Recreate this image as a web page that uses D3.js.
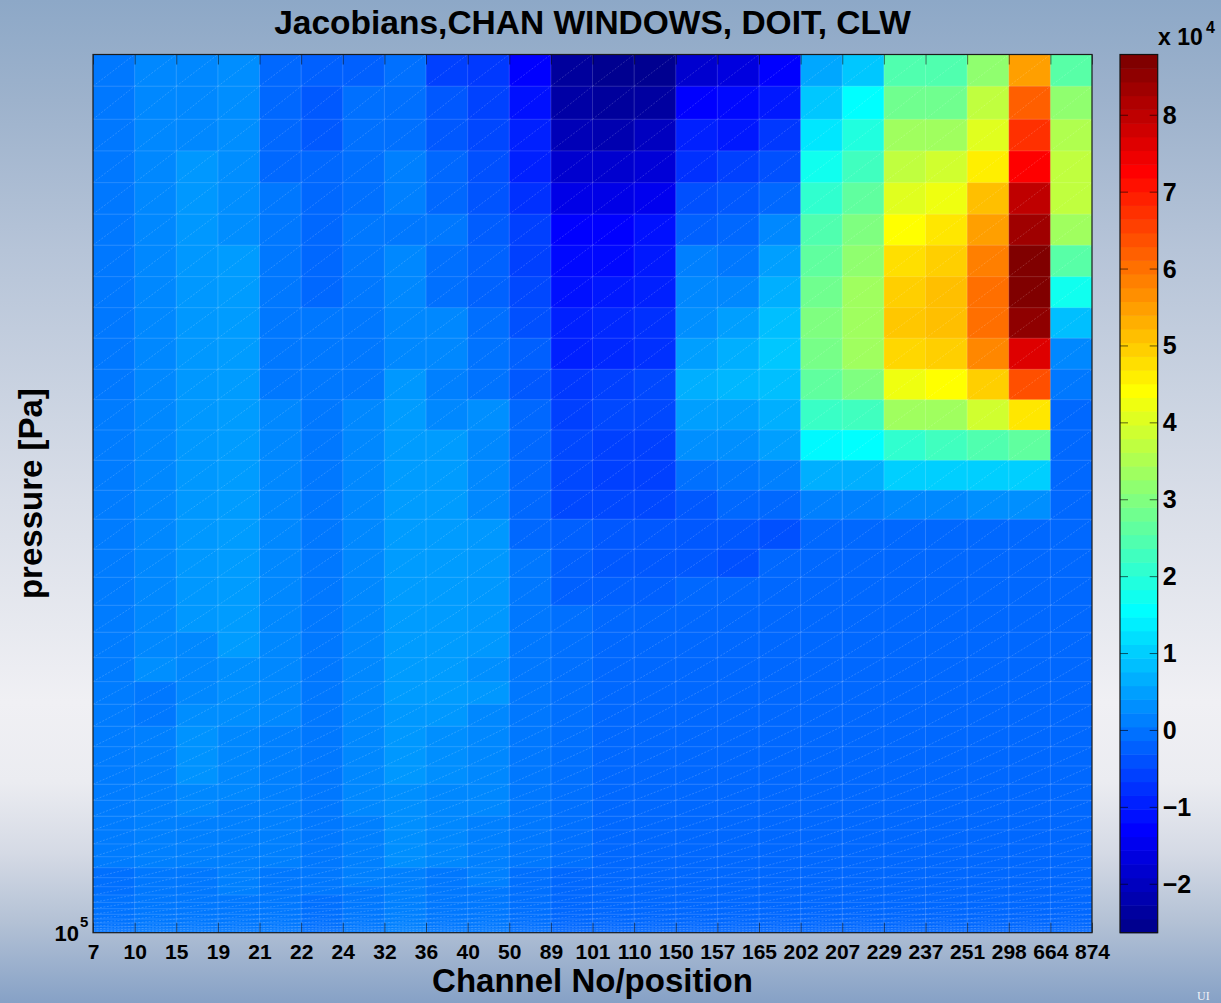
<!DOCTYPE html>
<html>
<head>
<meta charset="utf-8">
<script src="https://cdn.jsdelivr.net/npm/d3@7"></script>
<style>
html, body { margin: 0; padding: 0; }
body { width: 1221px; height: 1003px; overflow: hidden; }
text { font-family: "Liberation Sans", Arial, Helvetica, sans-serif; font-weight: bold; fill: #000; }
</style>
</head>
<body>
<div id="chart"></div>
<script>
// channel labels sit on the cell edges (pcolor style), 25 edges -> 24 cells
var channels = ["7","10","15","19","21","22","24","32","36","40","50","89","101","110",
                "150","157","165","202","207","229","237","251","298","664","874"];

// pressure cell edges [Pa], top -> bottom (log axis, reversed)
var pressureEdges = [13240, 14243, 15370, 16530, 17783, 19123, 20540, 22080, 23714, 25443,
                     27330, 29309, 31430, 33700, 36110, 38600, 41360, 44120, 47060, 50070,
                     53090, 56100, 59100, 62170, 65160, 68120, 71050, 73720, 76480, 78930,
                     81520, 83950, 86100, 88100, 89950, 91690, 93250, 94620, 95850, 96900,
                     97790, 98540, 99150, 99610, 100000];

// Jacobian values (x 1e4), one row per pressure layer, top -> bottom
var jacobian = [
 [0.05,0.23,0.23,0.30,-0.13,-0.22,-0.22,-0.04,-0.58,-0.65,-1.29,-2.40,-2.54,-2.54,-1.83,-1.65,-1.29,0.58,0.94,2.46,2.46,3.17,5.49,2.55],
 [0.05,0.23,0.23,0.30,-0.13,-0.30,-0.04,-0.04,-0.31,-0.55,-1.11,-2.30,-2.40,-2.36,-1.29,-1.20,-1.02,0.94,1.56,2.82,2.82,3.71,6.21,3.17],
 [0.05,0.23,0.23,0.30,-0.13,-0.30,-0.04,-0.04,-0.31,-0.50,-0.93,-2.10,-2.18,-2.00,-0.93,-1.02,-0.66,1.30,1.92,3.35,3.35,4.07,6.74,3.53],
 [0.05,0.23,0.41,0.30,-0.13,-0.13,-0.04,0.14,-0.13,-0.40,-0.93,-1.83,-1.83,-1.74,-0.75,-0.58,-0.40,1.74,2.28,3.71,3.89,4.60,7.28,3.71],
 [0.05,0.23,0.41,0.30,0.05,-0.13,-0.04,0.14,-0.13,-0.35,-0.75,-1.56,-1.56,-1.47,-0.40,-0.31,-0.13,2.10,2.64,4.07,4.24,5.14,7.99,3.71],
 [0.05,0.23,0.41,0.30,0.05,-0.13,0.05,0.05,0.05,-0.25,-0.58,-1.29,-1.29,-1.11,-0.22,-0.13,0.23,2.46,2.99,4.42,4.69,5.49,8.35,3.35],
 [0.05,0.23,0.41,0.45,0.05,-0.13,0.05,0.23,-0.04,-0.20,-0.58,-1.20,-1.20,-1.02,0.14,0.05,0.49,2.64,3.17,4.78,4.96,5.85,8.71,2.55],
 [0.05,0.23,0.41,0.45,0.05,-0.13,0.05,0.23,-0.04,-0.20,-0.49,-1.11,-1.02,-0.93,0.23,0.23,0.67,2.82,3.35,4.96,5.14,6.03,8.71,1.74],
 [0.05,0.23,0.41,0.45,0.05,0.05,0.05,0.23,0.23,-0.05,-0.40,-0.93,-0.84,-0.75,0.31,0.49,0.85,2.99,3.35,5.05,5.14,6.03,8.53,0.85],
 [0.05,0.23,0.41,0.45,0.05,0.05,0.05,0.23,0.23,0.00,-0.22,-0.93,-0.84,-0.75,0.49,0.67,0.94,2.90,3.35,4.87,4.96,5.76,7.64,0.23],
 [0.05,0.23,0.41,0.45,0.05,0.05,0.05,0.41,0.14,0.00,-0.31,-0.66,-0.58,-0.49,0.67,0.76,0.85,2.64,2.99,4.24,4.42,4.96,6.39,0.05],
 [0.10,0.23,0.41,0.45,0.23,0.05,0.23,0.45,0.23,0.31,-0.13,-0.58,-0.49,-0.49,0.49,0.49,0.67,2.20,2.28,3.35,3.35,3.89,4.69,-0.13],
 [0.10,0.23,0.41,0.45,0.23,0.05,0.23,0.45,0.45,0.23,-0.13,-0.49,-0.58,-0.58,0.31,0.31,0.49,1.50,1.56,2.10,2.28,2.46,2.64,-0.13],
 [0.10,0.23,0.41,0.45,0.23,0.05,0.23,0.45,0.45,0.23,-0.13,-0.49,-0.58,-0.58,-0.04,0.05,0.14,0.67,0.67,1.03,1.03,1.03,1.03,-0.13],
 [0.10,0.23,0.41,0.45,0.23,0.05,0.23,0.45,0.45,0.23,-0.13,-0.49,-0.49,-0.49,-0.31,-0.13,-0.13,0.14,0.14,0.23,0.23,0.31,0.31,-0.13],
 [0.10,0.23,0.41,0.45,0.23,0.05,0.23,0.45,0.45,0.41,-0.13,-0.22,-0.31,-0.31,-0.31,-0.31,-0.40,-0.13,-0.13,-0.13,-0.13,-0.13,-0.13,-0.13],
 [0.10,0.23,0.41,0.45,0.23,0.05,0.23,0.45,0.45,0.41,0.05,-0.22,-0.31,-0.31,-0.31,-0.40,-0.13,-0.13,-0.13,-0.13,-0.13,-0.13,-0.13,-0.13],
 [0.10,0.23,0.41,0.45,0.23,0.05,0.23,0.45,0.45,0.41,0.05,-0.22,-0.22,-0.22,-0.13,-0.13,-0.13,-0.13,-0.13,-0.13,-0.13,-0.13,-0.13,-0.13],
 [0.10,0.23,0.41,0.45,0.23,0.05,0.23,0.45,0.45,0.41,0.05,-0.04,-0.13,-0.13,-0.13,-0.13,-0.13,-0.13,-0.13,-0.13,-0.13,-0.13,-0.13,-0.13],
 [0.10,0.23,0.23,0.45,0.23,0.05,0.23,0.45,0.45,0.41,0.05,-0.04,-0.13,-0.13,-0.13,-0.13,-0.13,-0.13,-0.13,-0.13,-0.13,-0.13,-0.13,-0.13],
 [0.10,0.31,0.23,0.31,0.23,0.05,0.23,0.45,0.45,0.31,0.05,-0.04,-0.13,-0.13,-0.13,-0.13,-0.13,-0.13,-0.13,-0.13,-0.13,-0.13,-0.13,-0.13],
 [0.10,0.05,0.23,0.31,0.23,0.05,0.23,0.45,0.45,0.41,0.05,-0.04,-0.13,-0.13,-0.13,-0.13,-0.13,-0.13,-0.13,-0.13,-0.13,-0.13,-0.13,-0.13],
 [0.10,0.05,0.30,0.30,0.23,0.05,0.23,0.41,0.41,0.23,0.05,-0.04,-0.13,-0.13,-0.13,-0.13,-0.13,-0.13,-0.13,-0.13,-0.13,-0.13,-0.13,-0.13],
 [0.10,0.14,0.35,0.23,0.14,0.05,0.23,0.41,0.31,0.23,0.05,-0.04,-0.13,-0.13,-0.13,-0.13,-0.13,-0.13,-0.13,-0.13,-0.13,-0.13,-0.13,-0.13],
 [0.10,0.14,0.35,0.23,0.14,0.05,0.23,0.41,0.31,0.23,0.05,-0.04,-0.13,-0.13,-0.13,-0.13,-0.13,-0.13,-0.13,-0.13,-0.13,-0.13,-0.13,-0.13],
 [0.10,0.14,0.35,0.23,0.14,0.05,0.23,0.41,0.31,0.23,0.05,-0.04,-0.13,-0.13,-0.13,-0.13,-0.13,-0.13,-0.13,-0.13,-0.13,-0.13,-0.13,-0.13],
 [0.10,0.14,0.23,0.23,0.14,0.05,0.23,0.31,0.23,0.23,0.05,-0.04,-0.13,-0.13,-0.13,-0.13,-0.13,-0.13,-0.13,-0.13,-0.13,-0.13,-0.13,-0.13],
 [0.10,0.14,0.23,0.14,0.14,0.05,0.23,0.31,0.23,0.23,0.05,-0.04,-0.13,-0.13,-0.13,-0.13,-0.13,-0.13,-0.13,-0.13,-0.13,-0.13,-0.13,-0.13],
 [0.10,0.14,0.14,0.14,0.14,0.05,0.14,0.31,0.23,0.14,0.05,-0.04,-0.13,-0.13,-0.13,-0.13,-0.13,-0.13,-0.13,-0.13,-0.13,-0.13,-0.13,-0.13],
 [0.10,0.14,0.14,0.14,0.14,0.05,0.14,0.31,0.23,0.14,0.05,-0.04,-0.13,-0.13,-0.13,-0.13,-0.13,-0.13,-0.13,-0.13,-0.13,-0.13,-0.13,-0.13],
 [0.10,0.14,0.14,0.14,0.14,0.05,0.14,0.31,0.23,0.14,0.05,-0.04,-0.13,-0.13,-0.13,-0.13,-0.13,-0.13,-0.13,-0.13,-0.13,-0.13,-0.13,-0.13],
 [0.10,0.14,0.14,0.14,0.14,0.05,0.14,0.31,0.23,0.14,0.05,-0.04,-0.13,-0.13,-0.13,-0.13,-0.13,-0.13,-0.13,-0.13,-0.13,-0.13,-0.13,-0.13],
 [-0.04,0.05,0.05,0.14,0.05,0.05,0.14,0.14,0.05,0.14,-0.04,-0.13,-0.13,-0.13,-0.13,-0.13,-0.13,-0.13,-0.13,-0.13,-0.13,-0.13,-0.13,-0.13],
 [-0.04,0.05,0.05,0.14,0.05,0.05,0.14,0.14,0.05,0.14,-0.04,-0.13,-0.13,-0.13,-0.13,-0.13,-0.13,-0.13,-0.13,-0.13,-0.13,-0.13,-0.13,-0.13],
 [-0.04,0.05,0.05,0.14,0.05,0.05,0.05,0.14,0.05,0.05,-0.04,-0.13,-0.13,-0.13,-0.13,-0.13,-0.13,-0.13,-0.13,-0.13,-0.13,-0.13,-0.13,-0.13],
 [0.00,0.05,0.05,0.05,0.05,-0.04,0.05,0.14,0.05,0.05,-0.04,-0.13,-0.13,-0.13,-0.13,-0.13,-0.13,-0.13,-0.13,-0.13,-0.13,-0.13,-0.13,-0.13],
 [0.00,0.05,0.05,0.05,0.05,-0.04,0.05,0.14,0.05,0.05,-0.04,-0.13,-0.13,-0.13,-0.13,-0.13,-0.13,-0.13,-0.13,-0.13,-0.13,-0.13,-0.13,-0.13],
 [0.00,0.05,0.05,0.05,0.05,-0.04,0.05,0.14,0.05,0.05,-0.04,-0.13,-0.13,-0.13,-0.13,-0.13,-0.13,-0.13,-0.13,-0.13,-0.13,-0.13,-0.13,-0.13],
 [0.00,0.05,0.05,0.05,0.05,-0.04,0.05,0.14,0.05,0.05,-0.04,-0.13,-0.13,-0.13,-0.13,-0.13,-0.13,-0.13,-0.13,-0.13,-0.13,-0.13,-0.13,-0.13],
 [0.00,0.05,0.05,0.05,0.05,-0.04,0.05,0.14,0.05,0.05,-0.04,-0.13,-0.13,-0.13,-0.13,-0.13,-0.13,-0.13,-0.13,-0.13,-0.13,-0.13,-0.13,-0.13],
 [0.00,0.05,0.05,0.05,0.05,-0.04,0.05,0.14,0.05,0.05,-0.04,-0.13,-0.13,-0.13,-0.13,-0.13,-0.13,-0.13,-0.13,-0.13,-0.13,-0.13,-0.13,-0.13],
 [0.00,0.05,0.05,0.05,0.05,-0.04,0.05,0.14,0.05,0.05,-0.04,-0.13,-0.13,-0.13,-0.13,-0.13,-0.13,-0.13,-0.13,-0.13,-0.13,-0.13,-0.13,-0.13],
 [0.00,0.05,0.05,0.05,0.05,-0.04,0.05,0.14,0.05,0.05,-0.04,-0.13,-0.13,-0.13,-0.13,-0.13,-0.13,-0.13,-0.13,-0.13,-0.13,-0.13,-0.13,-0.13],
 [0.00,0.05,0.05,0.05,0.05,-0.04,0.05,0.14,0.05,0.05,-0.04,-0.13,-0.13,-0.13,-0.13,-0.13,-0.13,-0.13,-0.13,-0.13,-0.13,-0.13,-0.13,-0.13]
];

var colorTicks = [-2, -1, 0, 1, 2, 3, 4, 5, 6, 7, 8];
var colorLimits = [-2.63, 8.79];   // x 1e4

var W = 1221, H = 1003;
var plot = {left: 93, right: 1092, top: 54.5, bottom: 932.7};
var cbar = {left: 1120, right: 1157.7, levels: 64};

var svg = d3.select("#chart").append("svg")
	.attr("width", W)
	.attr("height", H);

// slide background
var defs = svg.append("defs");
var grad = defs.append("linearGradient")
	.attr("id", "bg")
	.attr("x1", 0).attr("y1", 0).attr("x2", 0).attr("y2", 1);
[[0, "#8da8c7"], [0.1, "#9db2cc"], [0.25, "#b6c4d8"], [0.5, "#d9dee8"], [0.7, "#f0f0f4"],
 [0.78, "#ebecf1"], [0.85, "#d5dae5"], [0.92, "#b3c1d5"], [1, "#86a1c6"]].forEach(function(s){
	grad.append("stop").attr("offset", s[0]).attr("stop-color", s[1]);
});
svg.append("rect").attr("width", W).attr("height", H).attr("fill", "url(#bg)");

defs.append("clipPath").attr("id", "plotClip")
	.append("rect")
	.attr("x", plot.left).attr("y", plot.top)
	.attr("width", plot.right - plot.left).attr("height", plot.bottom - plot.top);

//Scales
var x = d3.scaleLinear().domain([0, channels.length - 1]).range([plot.left, plot.right]);
var y = d3.scaleLog().domain([pressureEdges[0], 1e5]).range([plot.top, plot.bottom]);
var c = d3.scaleLinear().domain(colorLimits).range([plot.bottom, plot.top]);

function clamp01(v){ return Math.max(0, Math.min(1, v)); }
// MATLAB jet(64), continuous between the 64 entries
function jet(v){
	var k = (v - colorLimits[0]) / (colorLimits[1] - colorLimits[0]) * cbar.levels + 0.5;
	k = Math.max(1, Math.min(64, k));
	var r = clamp01(Math.min((k - 24) / 16, (72 - k) / 16)),
		g = clamp01(Math.min((k - 8) / 16, (56 - k) / 16)),
		b = clamp01(Math.min(0.5 + k / 16, (40 - k) / 16));
	return d3.rgb(r * 255, g * 255, b * 255).toString();
}

// flatten the matrix into cells
var cells = [];
jacobian.forEach(function(row, i){
	row.forEach(function(v, j){
		cells.push({row: i, col: j, value: v});
	});
});

var heat = svg.append("g").attr("clip-path", "url(#plotClip)");

heat.selectAll(".cell")
	.data(cells)
	.enter().append("rect")
	.attr("class", "cell")
	.attr("x", function(d){ return x(d.col); })
	.attr("y", function(d){ return y(pressureEdges[d.row]); })
	.attr("width", function(d){ return x(d.col + 1) - x(d.col) + 0.6; })
	.attr("height", function(d){ return y(pressureEdges[d.row + 1]) - y(pressureEdges[d.row]) + 0.6; })
	.style("fill", function(d){ return jet(d.value); });

// faint cell edges
heat.selectAll(".vgrid")
	.data(d3.range(1, channels.length - 1))
	.enter().append("line")
	.attr("x1", function(d){ return x(d); }).attr("x2", function(d){ return x(d); })
	.attr("y1", plot.top).attr("y2", plot.bottom)
	.style("stroke", "#fff").style("stroke-opacity", 0.17).style("stroke-width", 1);

heat.selectAll(".hgrid")
	.data(pressureEdges.slice(1, -1))
	.enter().append("line")
	.attr("x1", plot.left).attr("x2", plot.right)
	.attr("y1", function(d){ return y(d); }).attr("y2", function(d){ return y(d); })
	.style("stroke", "#fff").style("stroke-opacity", 0.15).style("stroke-width", 1);

// triangle seams of the patch rendering
heat.selectAll(".diag")
	.data(cells)
	.enter().append("line")
	.attr("x1", function(d){ return x(d.col); })
	.attr("y1", function(d){ return y(pressureEdges[d.row + 1]); })
	.attr("x2", function(d){ return x(d.col + 1); })
	.attr("y2", function(d){ return y(pressureEdges[d.row]); })
	.style("stroke", "#fff")
	.style("stroke-opacity", 0.22)
	.style("stroke-width", 0.8)
	.style("stroke-dasharray", "2,1.5");

// Axes
var xAxis = d3.axisBottom(x)
	.tickValues(d3.range(channels.length))
	.tickFormat(function(i){ return channels[i]; })
	.tickSizeInner(-10).tickSizeOuter(0).tickPadding(11);

var gx = svg.append("g")
	.attr("transform", "translate(0," + plot.bottom + ")")
	.call(xAxis);
gx.select(".domain").remove();
gx.selectAll("text").style("font-size", "21px").style("fill", "#000");
gx.selectAll("line").style("stroke", "#000").style("stroke-opacity", 0.55);

var gxTop = svg.append("g")
	.attr("transform", "translate(0," + plot.top + ")")
	.call(d3.axisTop(x).tickValues(d3.range(channels.length)).tickFormat("").tickSizeInner(-10).tickSizeOuter(0));
gxTop.select(".domain").remove();
gxTop.selectAll("line").style("stroke", "#000").style("stroke-opacity", 0.55);

svg.append("rect")
	.attr("x", plot.left).attr("y", plot.top)
	.attr("width", plot.right - plot.left).attr("height", plot.bottom - plot.top)
	.style("fill", "none").style("stroke", "#1b1b1b").style("stroke-width", 1.2);

// 10^5 label at the bottom of the log axis
svg.append("text")
	.attr("x", plot.left - 14).attr("y", y(1e5) + 8)
	.attr("text-anchor", "end")
	.style("font-size", "22px")
	.text("10");
svg.append("text")
	.attr("x", plot.left - 13).attr("y", y(1e5) - 6)
	.style("font-size", "15px")
	.text("5");

// Colorbar
var cstep = (colorLimits[1] - colorLimits[0]) / cbar.levels;
svg.append("g").selectAll("rect")
	.data(d3.range(cbar.levels))
	.enter().append("rect")
	.attr("x", cbar.left)
	.attr("width", cbar.right - cbar.left)
	.attr("y", function(i){ return c(colorLimits[0] + (i + 1) * cstep); })
	.attr("height", function(i){ return c(colorLimits[0] + i * cstep) - c(colorLimits[0] + (i + 1) * cstep) + 0.5; })
	.style("fill", function(i){ return jet(colorLimits[0] + (i + 0.5) * cstep); });

var cticks = svg.append("g");
cticks.selectAll(".tl")
	.data(colorTicks)
	.enter().append("line")
	.attr("x1", cbar.left).attr("x2", cbar.left + 8)
	.attr("y1", function(d){ return c(d); }).attr("y2", function(d){ return c(d); })
	.style("stroke", "#000").style("stroke-opacity", 0.6);
cticks.selectAll(".tr")
	.data(colorTicks)
	.enter().append("line")
	.attr("x1", cbar.right - 8).attr("x2", cbar.right)
	.attr("y1", function(d){ return c(d); }).attr("y2", function(d){ return c(d); })
	.style("stroke", "#000").style("stroke-opacity", 0.6);

svg.append("rect")
	.attr("x", cbar.left).attr("y", plot.top)
	.attr("width", cbar.right - cbar.left).attr("height", plot.bottom - plot.top)
	.style("fill", "none").style("stroke", "#111").style("stroke-width", 1.2);

var gc = svg.append("g")
	.attr("transform", "translate(" + cbar.right + ",0)")
	.call(d3.axisRight(c).tickValues(colorTicks).tickSize(0).tickPadding(5));
gc.select(".domain").remove();
gc.selectAll("text").style("font-size", "25px").style("fill", "#000");

svg.append("text")
	.attr("x", 1158).attr("y", 45)
	.style("font-size", "23px")
	.text("x 10");
svg.append("text")
	.attr("x", 1206).attr("y", 33)
	.style("font-size", "16px")
	.text("4");

// Titles
svg.append("text")
	.attr("x", (plot.left + plot.right) / 2).attr("y", 34)
	.attr("text-anchor", "middle")
	.style("font-size", "33.5px")
	.text("Jacobians,CHAN WINDOWS, DOIT, CLW");

svg.append("text")
	.attr("x", (plot.left + plot.right) / 2).attr("y", 992)
	.attr("text-anchor", "middle")
	.style("font-size", "33px")
	.text("Channel No/position");

svg.append("text")
	.attr("transform", "translate(42," + ((plot.top + plot.bottom) / 2) + ") rotate(-90)")
	.attr("text-anchor", "middle")
	.style("font-size", "33px")
	.text("pressure [Pa]");

// slide logo corner
svg.append("text")
	.attr("x", 1197).attr("y", 1000)
	.style("font-family", "'Liberation Serif', 'DejaVu Serif', serif")
	.style("font-weight", "normal")
	.style("font-size", "12px")
	.style("fill", "#fff")
	.style("fill-opacity", 0.9)
	.text("UI");
</script>
</body>
</html>
